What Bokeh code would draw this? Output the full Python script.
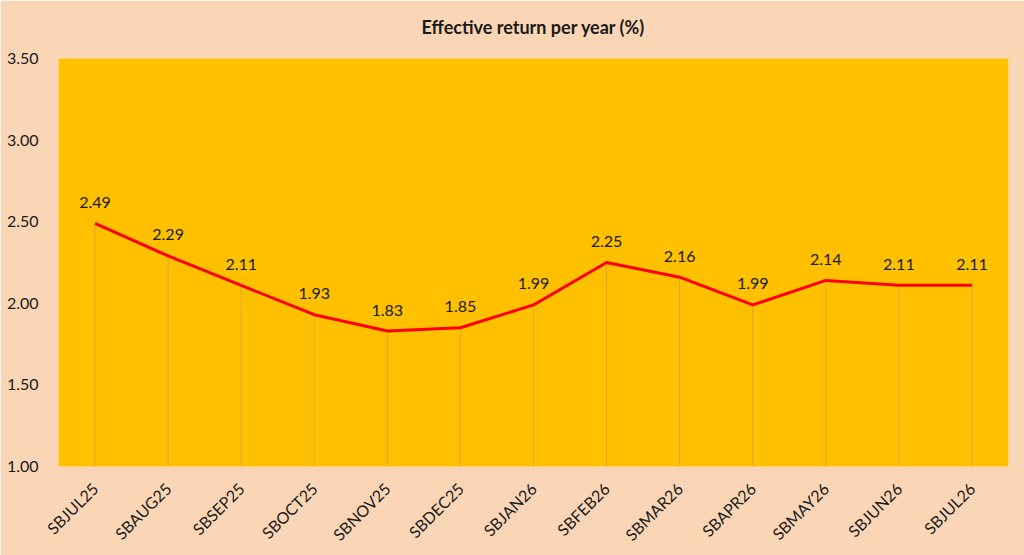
from bokeh.plotting import figure
from bokeh.models import ColumnDataSource, Range1d, FixedTicker, LabelSet, LinearAxis, CustomJSTickFormatter
from bokeh.core.properties import value
from bokeh.embed import file_html
from bokeh.resources import INLINE
from math import pi

categories = ["SBJUL25", "SBAUG25", "SBSEP25", "SBOCT25", "SBNOV25", "SBDEC25",
              "SBJAN26", "SBFEB26", "SBMAR26", "SBAPR26", "SBMAY26", "SBJUN26", "SBJUL26"]
returns = [2.49, 2.29, 2.11, 1.93, 1.83, 1.85, 1.99, 2.25, 2.16, 1.99, 2.14, 2.11, 2.11]
y_ticks = [1.0, 1.5, 2.0, 2.5, 3.0, 3.5]
y_min, y_max = 1.0, 3.5
title_text = "Effective return per year (%)"

FONT = "Lato"
BG = "#FBD6B6"
PLOT_BG = "#FFC000"

src = ColumnDataSource(dict(
    cat=categories,
    val=returns,
    base=[y_min] * len(returns),
    lbl=["%.2f" % v for v in returns],
))

p = figure(x_range=categories, y_range=Range1d(y_min, y_max),
           width=1024, height=555, output_backend="svg", toolbar_location=None,
           min_border_left=58, min_border_right=16, min_border_top=58, min_border_bottom=89)

p.background_fill_color = PLOT_BG
p.border_fill_color = BG
p.outline_line_color = None

p.xgrid.grid_line_color = None
p.ygrid.grid_line_color = None

# drop lines
p.segment(x0="cat", y0="base", x1="cat", y1="val", source=src,
          line_color="#CFA34A", line_width=1, line_alpha=0.8)

p.line(x="cat", y="val", source=src, line_color="#FF0000", line_width=3)

labels = LabelSet(x="cat", y="val", text="lbl", source=src,
                  text_align="center", text_baseline="middle",
                  y_offset=21, text_font=value(FONT), text_font_size=value("16px"),
                  text_color="#1a1a1a")
p.add_layout(labels)

# title drawn as the label of an empty axis above the plot area
title_axis = LinearAxis(ticker=FixedTicker(ticks=[]), axis_label=title_text,
                        axis_line_color=None, major_tick_line_color=None,
                        minor_tick_line_color=None, major_label_text_font_size="0px",
                        axis_label_text_font=FONT, axis_label_text_font_size="18px",
                        axis_label_text_font_style="bold", axis_label_text_color="#1a1a1a",
                        axis_label_standoff=21)
p.add_layout(title_axis, "above")

p.yaxis.ticker = FixedTicker(ticks=y_ticks)
p.yaxis.formatter = CustomJSTickFormatter(code="return tick.toFixed(2);")
p.yaxis.axis_line_color = None
p.yaxis.major_tick_line_color = None
p.yaxis.minor_tick_line_color = None
p.yaxis.major_label_text_font = FONT
p.yaxis.major_label_text_font_size = "16px"
p.yaxis.major_label_text_color = "#1a1a1a"
p.yaxis.major_label_standoff = 14

p.below[0].axis_line_color = None
p.below[0].major_tick_line_color = None
p.below[0].major_label_orientation = pi / 4
p.below[0].major_label_text_font = FONT
p.below[0].major_label_text_font_size = "16px"
p.below[0].major_label_text_color = "#1a1a1a"
p.below[0].major_label_standoff = 13

open("out.html", "w").write(file_html(p, INLINE))
